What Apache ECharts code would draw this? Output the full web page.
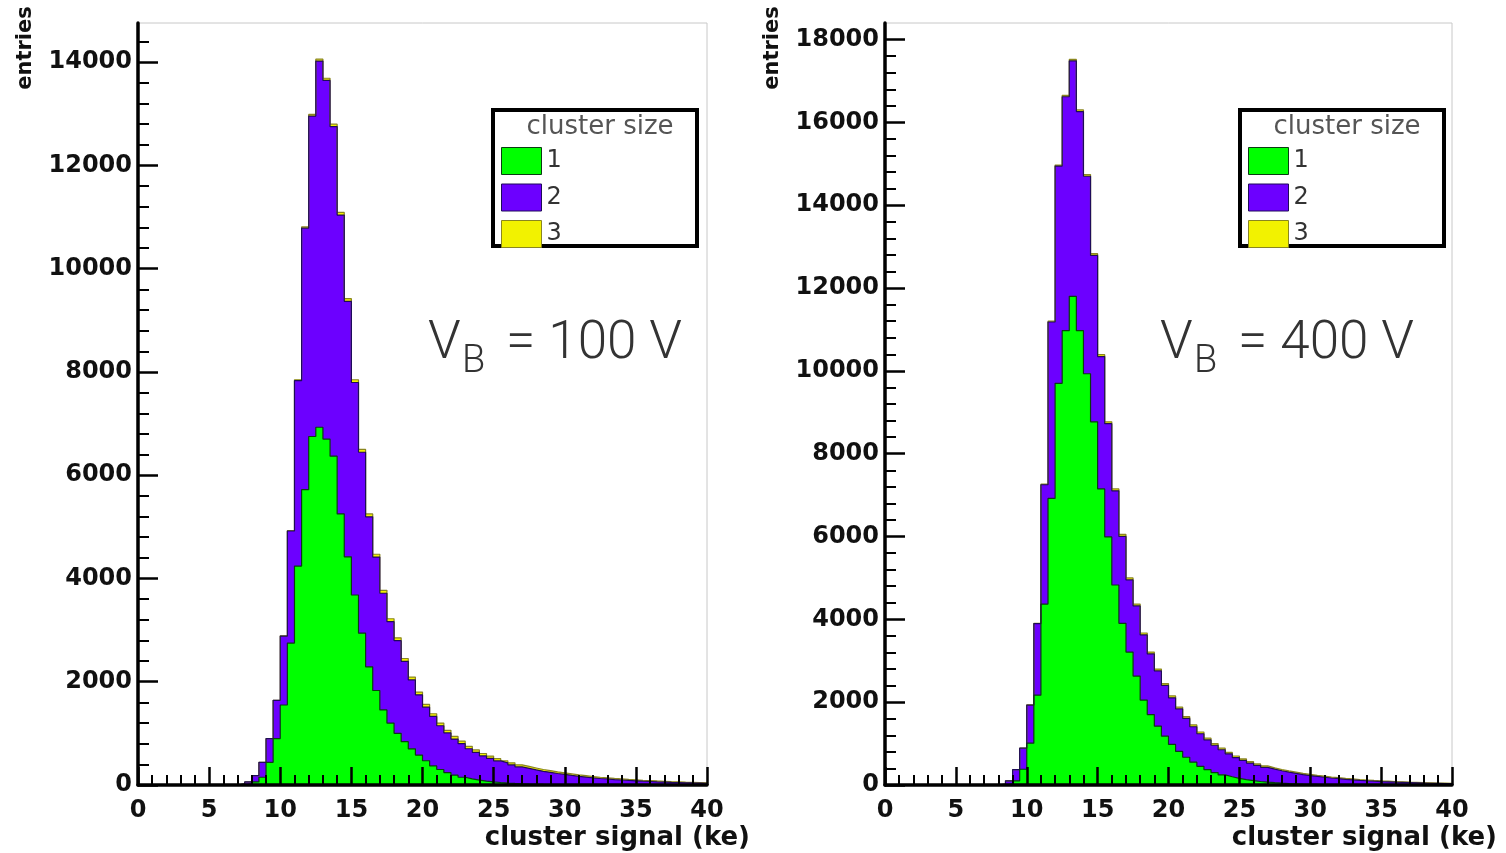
<!DOCTYPE html>
<html>
<head>
<meta charset="utf-8">
<script src="https://cdn.jsdelivr.net/npm/echarts@6/dist/echarts.min.js"></script>
<style>
  html, body { margin: 0; padding: 0; background: #ffffff; }
  #chart { width: 1506px; height: 853px; }
</style>
</head>
<body>
<div id="chart"></div>
<script>
// Cluster signal spectra, stacked by cluster size.
// Histogram bins are 0.5 ke wide; the first listed bin starts at 6.5 ke.
const binStart = 6.5;
const binWidth = 0.5;
const xMax = 40;

const sizeNames = ['1', '2', '3'];
const yTicksLeft = [0, 2000, 4000, 6000, 8000, 10000, 12000, 14000];
const yTicksRight = [0, 2000, 4000, 6000, 8000, 10000, 12000, 14000, 16000, 18000];
const biasLabels = ['100 V', '400 V'];

// V_B = 100 V : entries per bin
const size1At100 = [
  0, 0, 20, 60, 150, 440, 900, 1550, 2750, 4240,
  5720, 6750, 6930, 6700, 6370, 5250, 4420, 3680, 2940, 2290,
  1830, 1455, 1200, 1000, 840, 700, 580, 470, 370, 300,
  240, 190, 150, 120, 95, 75, 60, 48, 38, 30,
  24, 19, 15, 12, 10, 8, 6, 5, 4, 3,
  3, 2, 2, 2, 1, 1, 1, 1, 1, 0,
  0, 0, 0, 0, 0, 0, 0
];
const size2At100 = [
  0, 20, 40, 120, 290, 460, 740, 1335, 2170, 3592,
  5065, 6208, 7092, 6948, 6384, 5790, 4948, 4116, 3505, 2904,
  2584, 2259, 1964, 1795, 1555, 1336, 1166, 1037, 958, 848,
  769, 700, 651, 582, 538, 489, 455, 418, 390, 359,
  326, 303, 278, 253, 236, 215, 198, 180, 163, 150,
  136, 124, 115, 104, 96, 87, 80, 73, 67, 62,
  57, 52, 48, 44, 40, 37, 34
];
const size3At100 = [
  0, 0, 0, 0, 0, 0, 0, 5, 10, 18,
  25, 32, 38, 42, 46, 50, 52, 54, 55, 56,
  56, 56, 56, 55, 55, 54, 54, 53, 52, 52,
  51, 50, 49, 48, 47, 46, 45, 44, 42, 41,
  40, 38, 37, 35, 34, 32, 31, 30, 28, 27,
  26, 24, 23, 22, 21, 20, 19, 18, 17, 16,
  15, 14, 13, 12, 12, 11, 10
];

// V_B = 400 V : entries per bin
const size1At400 = [
  0, 0, 0, 0, 30, 100, 380, 1010, 2170, 4370,
  6920, 9700, 10970, 11800, 10970, 9930, 8770, 7150, 5990, 4830,
  3905, 3210, 2630, 2050, 1700, 1420, 1180, 980, 810, 670,
  550, 450, 370, 300, 245, 200, 160, 130, 105, 85,
  68, 55, 44, 35, 28, 22, 18, 14, 11, 9,
  7, 6, 5, 4, 3, 3, 2, 2, 1, 1,
  1, 1, 0, 0, 0, 0, 0
];
const size2At400 = [
  0, 0, 0, 20, 70, 270, 510, 921, 1727, 2880,
  4260, 5244, 5649, 5685, 5292, 4769, 4017, 3195, 2734, 2273,
  2098, 1743, 1693, 1573, 1464, 1334, 1225, 1125, 1026, 937,
  857, 788, 719, 660, 606, 552, 503, 464, 425, 391,
  359, 328, 300, 275, 253, 230, 210, 192, 176, 160,
  146, 132, 120, 109, 99, 89, 81, 74, 68, 62,
  56, 51, 47, 42, 38, 34, 31
];
const size3At400 = [
  0, 0, 0, 0, 0, 0, 0, 4, 8, 14,
  20, 26, 31, 35, 38, 41, 43, 45, 46, 47,
  47, 47, 47, 47, 46, 46, 45, 45, 44, 43,
  43, 42, 41, 40, 39, 38, 37, 36, 35, 34,
  33, 32, 31, 30, 29, 28, 27, 26, 25, 24,
  23, 22, 21, 20, 19, 18, 17, 16, 15, 14,
  13, 12, 11, 11, 10, 10, 9
];

const fillColors = ['#00ff00', '#6c00ff', '#f2f200'];
const edgeColors = ['#0b3b12', '#1e0b5a', '#8a8620'];

// Running sums over the cluster-size layers (size 1, 1+2, 1+2+3),
// so each layer is drawn as a filled step histogram from zero.
function cumulativeLayers(sets) {
  const out = [];
  let acc = sets[0].map(() => 0);
  sets.forEach(vals => {
    acc = acc.map((a, i) => a + vals[i]);
    out.push(acc.slice());
  });
  return out;
}

// [binLowEdge, entries] pairs, closed with a point at the upper range edge
function histPoints(values) {
  const pts = values.map((v, i) => [binStart + i * binWidth, v]);
  pts.push([xMax, values[values.length - 1]]);
  return pts;
}

const panels = [
  { sets: [size1At100, size2At100, size3At100], yMax: 14760, yTicks: yTicksLeft },
  { sets: [size1At400, size2At400, size3At400], yMax: 18400, yTicks: yTicksRight }
];

const tickFont = { fontFamily: 'DejaVu Sans', fontWeight: 'bold', fontSize: 24, color: '#111' };

const grids = [
  { left: 138, top: 23, width: 569, height: 762 },
  { left: 885, top: 23, width: 567, height: 762 }
].map(g => Object.assign(g, { show: true, borderColor: '#c8c8c8', borderWidth: 1, backgroundColor: 'transparent' }));

const xAxes = panels.map((p, i) => ({
  type: 'value', gridIndex: i, min: 0, max: xMax, interval: 5, z: 5,
  axisLine: { show: true, onZero: false, lineStyle: { color: '#000', width: 3.5 } },
  axisTick: { show: true, inside: true, length: 18, lineStyle: { color: '#000', width: 2.5 } },
  minorTick: { show: true, splitNumber: 5, length: 10, lineStyle: { color: '#000', width: 2 } },
  axisLabel: Object.assign({ margin: 14, formatter: v => String(v) }, tickFont),
  splitLine: { show: false }
}));

const yAxes = panels.map((p, i) => ({
  type: 'value', gridIndex: i, min: 0, max: p.yMax, interval: 2000, z: 5,
  axisLine: { show: true, onZero: false, lineStyle: { color: '#000', width: 3.5 } },
  axisTick: { show: true, inside: true, length: 20, customValues: p.yTicks, lineStyle: { color: '#000', width: 2.5 } },
  minorTick: { show: true, splitNumber: 5, length: 11, lineStyle: { color: '#000', width: 2 } },
  axisLabel: Object.assign({ margin: 6, customValues: p.yTicks, formatter: v => String(v) }, tickFont),
  splitLine: { show: false }
}));

const series = [];
panels.forEach((p, i) => {
  const layers = cumulativeLayers(p.sets);
  // draw the outermost layer first so inner layers sit on top of it
  [2, 1, 0].forEach(k => {
    series.push({
      name: sizeNames[k],
      type: 'line',
      xAxisIndex: i,
      yAxisIndex: i,
      step: 'end',
      symbol: 'none',
      z: 2,
      color: fillColors[k],
      lineStyle: { color: edgeColors[k], width: 1.2 },
      areaStyle: { color: fillColors[k], opacity: 1, origin: 'start' },
      emphasis: { disabled: true },
      data: histPoints(layers[k])
    });
  });
});

const legendBoxes = [{ x: 493, y: 110 }, { x: 1240, y: 110 }];
const legends = legendBoxes.map(b => ({
  left: b.x + 8, top: b.y + 37, orient: 'vertical', padding: 0,
  itemWidth: 40, itemHeight: 27, itemGap: 8.5, icon: 'rect', selectedMode: false, z: 6,
  textStyle: { fontFamily: 'DejaVu Sans', fontSize: 24, color: '#333' },
  data: sizeNames.map((n, k) => ({
    name: n, icon: 'rect',
    itemStyle: { color: fillColors[k], borderColor: edgeColors[k], borderWidth: 1 }
  }))
}));

const graphics = [];
legendBoxes.forEach(b => {
  graphics.push({
    type: 'rect', z: 4, shape: { x: b.x, y: b.y, width: 204, height: 136 },
    style: { fill: '#fff', stroke: '#000', lineWidth: 4 }
  });
  graphics.push({
    type: 'text', z: 7, x: b.x + 107, y: b.y + 17,
    style: { text: 'cluster size', fill: '#555', font: '26px "DejaVu Sans"', textAlign: 'center', textVerticalAlign: 'middle' }
  });
});

// axis titles
[{ x: 26, right: 750 }, { x: 773, right: 1497 }].forEach(t => {
  graphics.push({
    type: 'text', z: 7, x: t.x, y: 48, rotation: Math.PI / 2,
    style: { text: 'entries', fill: '#111', font: 'bold 21px "DejaVu Sans"', textAlign: 'center', textVerticalAlign: 'middle' }
  });
  graphics.push({
    type: 'text', z: 7, x: t.right, y: 838,
    style: { text: 'cluster signal (ke)', fill: '#111', font: 'bold 26px "DejaVu Sans"', textAlign: 'right', textVerticalAlign: 'middle' }
  });
});

// bias voltage annotations
[{ x: 428, label: biasLabels[0] }, { x: 1160, label: biasLabels[1] }].forEach(a => {
  const font = '300 53px Roboto, "Liberation Sans", sans-serif';
  graphics.push({ type: 'text', z: 7, x: a.x, y: 345,
    style: { text: 'V', fill: '#333', font: font, textAlign: 'left', textVerticalAlign: 'middle' } });
  graphics.push({ type: 'text', z: 7, x: a.x + 34, y: 362,
    style: { text: 'B', fill: '#333', font: '300 38px Roboto, "Liberation Sans", sans-serif', textAlign: 'left', textVerticalAlign: 'middle' } });
  graphics.push({ type: 'text', z: 7, x: a.x + 78, y: 345,
    style: { text: '= ' + a.label, fill: '#333', font: font, textAlign: 'left', textVerticalAlign: 'middle' } });
});

const chart = echarts.init(document.getElementById('chart'), null, { renderer: 'canvas' });
chart.setOption({
  animation: false,
  backgroundColor: '#ffffff',
  grid: grids,
  xAxis: xAxes,
  yAxis: yAxes,
  legend: legends,
  graphic: { elements: graphics },
  series: series
});
</script>
</body>
</html>
